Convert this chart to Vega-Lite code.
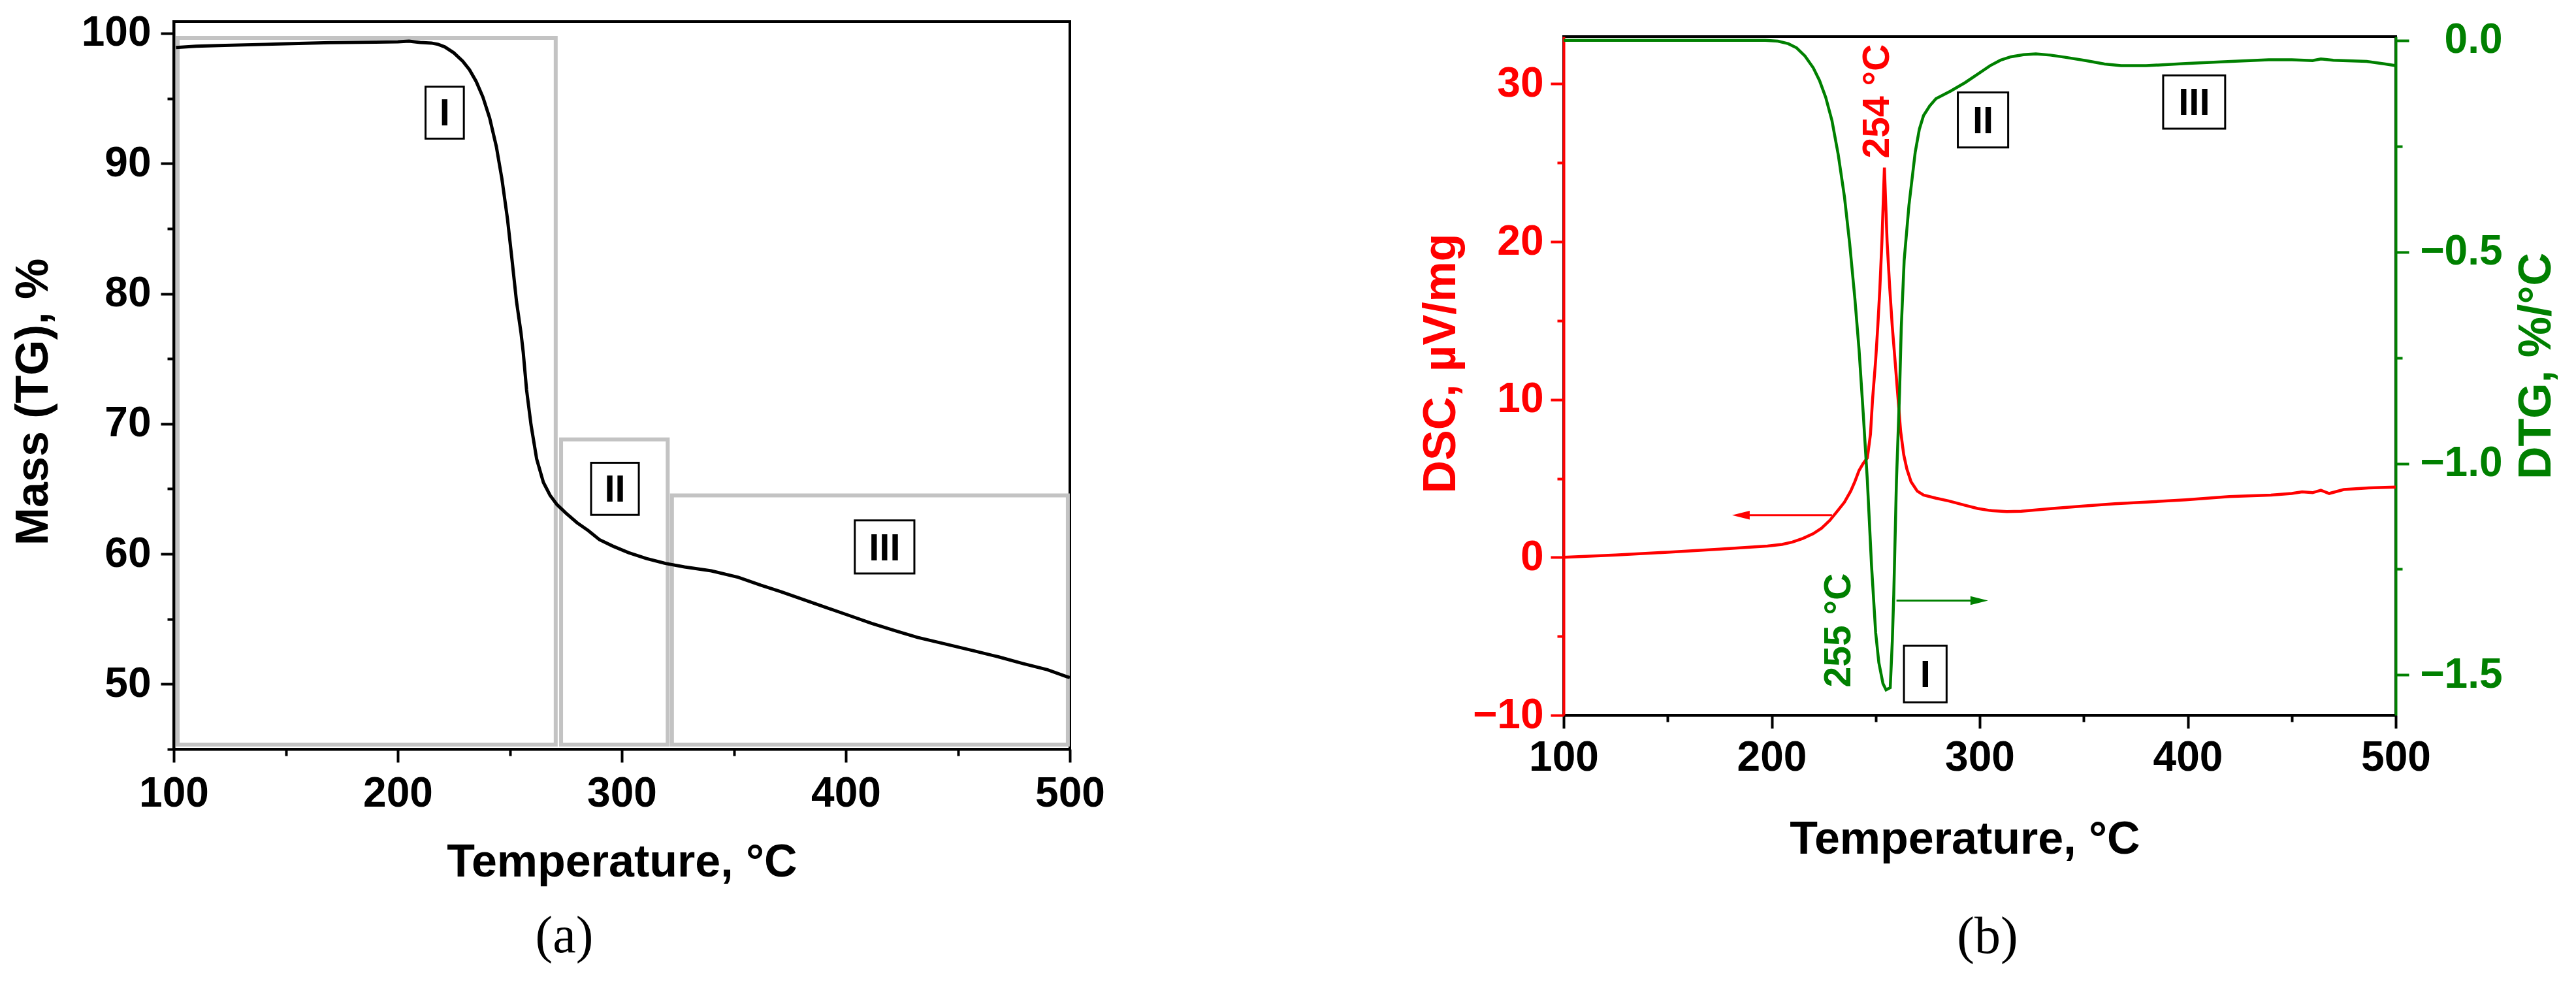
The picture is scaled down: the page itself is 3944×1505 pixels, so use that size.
{
  "$schema": "https://vega.github.io/schema/vega-lite/v6.json",
  "background": "white",
  "padding": {"left": 14, "top": 16, "right": 0, "bottom": 0},
  "config": {
    "view": {"stroke": "black", "strokeWidth": 4},
    "font": "Liberation Sans",
    "axis": {
      "labelFont": "Liberation Sans", "labelFontWeight": "bold", "labelFontSize": 64,
      "titleFont": "Liberation Sans", "titleFontWeight": "bold", "titleFontSize": 70,
      "grid": false, "domainWidth": 4, "tickWidth": 4,
      "domainColor": "black", "tickColor": "black", "labelColor": "black", "titleColor": "black"
    },
    "title": {"font": "Liberation Serif", "fontSize": 80, "fontWeight": "normal", "color": "black"}
  },
  "datasets": {
    "tg": [
      {"t":101,"m":98.9},{"t":110,"m":99.0},{"t":120,"m":99.05},{"t":141,"m":99.15},{"t":150,"m":99.2},{"t":170,"m":99.28},{"t":190,"m":99.32},{"t":200,"m":99.35},{"t":205,"m":99.4},{"t":210,"m":99.3},{"t":215,"m":99.25},{"t":218,"m":99.15},{"t":221,"m":98.95},{"t":225,"m":98.5},{"t":229,"m":97.85},{"t":232,"m":97.2},{"t":235,"m":96.3},{"t":238,"m":95.1},{"t":241,"m":93.5},{"t":244,"m":91.3},{"t":246.5,"m":88.8},{"t":249,"m":85.7},{"t":251,"m":82.6},{"t":253,"m":79.4},{"t":255,"m":77.0},{"t":256,"m":75.5},{"t":257.5,"m":72.6},{"t":259.5,"m":69.9},{"t":262,"m":67.3},{"t":265,"m":65.5},{"t":268,"m":64.5},{"t":271,"m":63.8},{"t":275,"m":63.15},{"t":280,"m":62.4},{"t":285,"m":61.8},{"t":290,"m":61.1},{"t":296,"m":60.6},{"t":303,"m":60.1},{"t":311,"m":59.65},{"t":319.5,"m":59.27},{"t":328,"m":59.0},{"t":340,"m":58.7},{"t":352,"m":58.2},{"t":362,"m":57.6},{"t":371,"m":57.1},{"t":381,"m":56.5},{"t":391,"m":55.9},{"t":401,"m":55.3},{"t":411.5,"m":54.67},{"t":422,"m":54.1},{"t":432,"m":53.59},{"t":444,"m":53.1},{"t":456.5,"m":52.58},{"t":468,"m":52.1},{"t":479,"m":51.58},{"t":490,"m":51.1},{"t":498.5,"m":50.58},{"t":500,"m":50.5}
    ],
    "dsc": [
      {"t":100,"v":0.0},{"t":125,"v":0.15},{"t":150,"v":0.33},{"t":175,"v":0.52},{"t":198,"v":0.72},{"t":205,"v":0.82},{"t":210,"v":0.97},{"t":215,"v":1.2},{"t":220,"v":1.5},{"t":224,"v":1.85},{"t":228,"v":2.35},{"t":232,"v":3.0},{"t":235,"v":3.5},{"t":238,"v":4.2},{"t":240,"v":4.8},{"t":242,"v":5.5},{"t":244,"v":5.95},{"t":246,"v":6.3},{"t":247.5,"v":7.8},{"t":248.5,"v":10.0},{"t":250,"v":12.5},{"t":251,"v":14.6},{"t":252,"v":17},{"t":253,"v":20},{"t":254.2,"v":24.7},{"t":255.5,"v":20},{"t":256.8,"v":17},{"t":258,"v":14.6},{"t":259.3,"v":12.5},{"t":260.5,"v":10.5},{"t":262,"v":8.0},{"t":263.5,"v":6.5},{"t":265,"v":5.6},{"t":267,"v":4.8},{"t":270,"v":4.2},{"t":273,"v":3.95},{"t":279,"v":3.75},{"t":285,"v":3.58},{"t":293,"v":3.3},{"t":299,"v":3.1},{"t":305,"v":2.97},{"t":313,"v":2.9},{"t":320,"v":2.92},{"t":335,"v":3.1},{"t":350,"v":3.25},{"t":365,"v":3.4},{"t":380,"v":3.5},{"t":399,"v":3.65},{"t":420,"v":3.85},{"t":440,"v":3.95},{"t":450,"v":4.05},{"t":455,"v":4.15},{"t":460,"v":4.1},{"t":464,"v":4.25},{"t":468,"v":4.05},{"t":475,"v":4.3},{"t":487,"v":4.4},{"t":500,"v":4.45}
    ],
    "dtg": [
      {"t":100,"v":0.0},{"t":150,"v":0.0},{"t":197,"v":0.0},{"t":203,"v":-0.002},{"t":208,"v":-0.008},{"t":212,"v":-0.018},{"t":216,"v":-0.037},{"t":220,"v":-0.065},{"t":223,"v":-0.095},{"t":226,"v":-0.135},{"t":229,"v":-0.19},{"t":232,"v":-0.27},{"t":235,"v":-0.37},{"t":237.5,"v":-0.48},{"t":240,"v":-0.61},{"t":242,"v":-0.73},{"t":244,"v":-0.88},{"t":246,"v":-1.04},{"t":248,"v":-1.24},{"t":250,"v":-1.4},{"t":251.5,"v":-1.47},{"t":253.5,"v":-1.52},{"t":255,"v":-1.535},{"t":257,"v":-1.53},{"t":258,"v":-1.42},{"t":258.7,"v":-1.31},{"t":260,"v":-1.04},{"t":261.5,"v":-0.83},{"t":262.3,"v":-0.68},{"t":263.7,"v":-0.52},{"t":266,"v":-0.39},{"t":269,"v":-0.265},{"t":271,"v":-0.21},{"t":273,"v":-0.178},{"t":276,"v":-0.155},{"t":279,"v":-0.138},{"t":286,"v":-0.12},{"t":293,"v":-0.1},{"t":299,"v":-0.08},{"t":305,"v":-0.06},{"t":310,"v":-0.047},{"t":315,"v":-0.039},{"t":321,"v":-0.034},{"t":327,"v":-0.032},{"t":334,"v":-0.035},{"t":341,"v":-0.04},{"t":351,"v":-0.048},{"t":360,"v":-0.056},{"t":368,"v":-0.06},{"t":380,"v":-0.06},{"t":399,"v":-0.055},{"t":421,"v":-0.05},{"t":439,"v":-0.046},{"t":450,"v":-0.046},{"t":460,"v":-0.048},{"t":464,"v":-0.044},{"t":470,"v":-0.047},{"t":486,"v":-0.05},{"t":495,"v":-0.056},{"t":500,"v":-0.06}
    ],
    "regA": [
      {"x1":101.75,"x2":270.5,"y1":45.35,"y2":99.65},
      {"x1":272.9,"x2":320.5,"y1":45.35,"y2":68.8},
      {"x1":322.4,"x2":499.1,"y1":45.35,"y2":64.5}
    ],
    "labA": [
      {"x1":212.4,"x2":229.5,"y1":91.9,"y2":95.9,"cx":220.95,"cy":93.9,"lab":"I"},
      {"x1":286.3,"x2":307.6,"y1":63.0,"y2":67.0,"cx":296.95,"cy":65.0,"lab":"II"},
      {"x1":404.0,"x2":430.6,"y1":58.5,"y2":62.57,"cx":417.3,"cy":60.53,"lab":"III"}
    ],
    "labB": [
      {"x1":263.6,"x2":284.1,"y1":-9.18,"y2":-5.59,"cx":273.85,"cy":-7.38,"lab":"I"},
      {"x1":289.5,"x2":313.7,"y1":25.97,"y2":29.46,"cx":301.6,"cy":27.7,"lab":"II"},
      {"x1":388.2,"x2":418.0,"y1":27.16,"y2":30.54,"cx":403.1,"cy":28.85,"lab":"III"}
    ],
    "blank": [{"s": ""}]
  },
  "spacing": 475,
  "hconcat": [
    {
      "width": 1372,
      "height": 1114,
      "title": {"text": "(a)", "orient": "bottom", "anchor": "middle", "dx": -88, "offset": 40},
      "layer": [
        {
          "data": {"name": "regA"},
          "mark": {"type": "rect", "fillOpacity": 0, "stroke": "#c3c3c3", "strokeWidth": 6},
          "encoding": {
            "x": {"field": "x1", "type": "quantitative", "scale": {"domain": [100, 500], "nice": false, "zero": false},
              "axis": {"values": [100,150,200,250,300,350,400,450,500], "labelExpr": "datum.value % 100 === 0 ? datum.label : ''",
                "tickSize": {"condition": {"test": "datum.value % 100 === 0", "value": 20}, "value": 10},
                "labelPadding": 16, "labelFlush": false, "format": "d", "title": "Temperature, °C", "titlePadding": 39}},
            "x2": {"field": "x2"},
            "y": {"field": "y1", "type": "quantitative", "scale": {"domain": [45, 100.9], "nice": false, "zero": false},
              "axis": {"values": [45,50,55,60,65,70,75,80,85,90,95,100], "labelExpr": "datum.value % 10 === 0 ? datum.label : ''",
                "tickSize": {"condition": {"test": "datum.value % 10 === 0", "value": 20}, "value": 10},
                "labelPadding": 15, "format": "d", "title": "Mass (TG), %", "titlePadding": 37, "titleY": 582}},
            "y2": {"field": "y2"}
          }
        },
        {
          "data": {"name": "tg"},
          "mark": {"type": "line", "color": "black", "strokeWidth": 5},
          "encoding": {
            "x": {"field": "t", "type": "quantitative", "scale": {"domain": [100, 500], "nice": false, "zero": false}},
            "y": {"field": "m", "type": "quantitative", "scale": {"domain": [45, 100.9], "nice": false, "zero": false}}
          }
        },
        {
          "data": {"name": "labA"},
          "mark": {"type": "rect", "fill": "white", "stroke": "black", "strokeWidth": 3},
          "encoding": {
            "x": {"field": "x1", "type": "quantitative", "scale": {"domain": [100, 500], "nice": false, "zero": false}},
            "x2": {"field": "x2"},
            "y": {"field": "y1", "type": "quantitative", "scale": {"domain": [45, 100.9], "nice": false, "zero": false}},
            "y2": {"field": "y2"}
          }
        },
        {
          "data": {"name": "labA"},
          "mark": {"type": "text", "font": "Liberation Sans", "fontWeight": "bold", "fontSize": 58, "color": "black", "dy": 3},
          "encoding": {
            "x": {"field": "cx", "type": "quantitative", "scale": {"domain": [100, 500], "nice": false, "zero": false}},
            "y": {"field": "cy", "type": "quantitative", "scale": {"domain": [45, 100.9], "nice": false, "zero": false}},
            "text": {"field": "lab"}
          }
        }
      ]
    },
    {
      "spacing": -12,
      "vconcat": [
        {
          "width": 1274,
          "height": 1,
          "view": {"stroke": null},
          "data": {"name": "blank"},
          "mark": {"type": "text"},
          "encoding": {"text": {"field": "s"}}
        },
        {
          "width": 1274,
          "height": 1039,
          "title": {"text": "(b)", "orient": "bottom", "anchor": "middle", "dx": 12, "offset": 76},
          "resolve": {"scale": {"y": "independent"}},
          "layer": [
            {
              "layer": [
                {
                  "data": {"name": "dsc"},
                  "mark": {"type": "line", "color": "#ff0000", "strokeWidth": 4.5},
                  "encoding": {
                    "x": {"field": "t", "type": "quantitative", "scale": {"domain": [100, 500], "nice": false, "zero": false},
                      "axis": {"orient": "bottom", "values": [100,150,200,250,300,350,400,450,500], "labelExpr": "datum.value % 100 === 0 ? datum.label : ''",
                        "tickSize": {"condition": {"test": "datum.value % 100 === 0", "value": 20}, "value": 10},
                        "labelPadding": 13, "labelFlush": false, "format": "d", "title": "Temperature, °C", "titlePadding": 59, "titleX": 614}},
                    "y": {"field": "v", "type": "quantitative", "scale": {"domain": [-10, 33], "nice": false, "zero": false},
                      "axis": {"orient": "left", "values": [-10,-5,0,5,10,15,20,25,30], "labelExpr": "datum.value % 10 === 0 ? datum.label : ''",
                        "tickSize": {"condition": {"test": "datum.value % 10 === 0", "value": 20}, "value": 10},
                        "labelPadding": 11, "format": "d", "title": "DSC, µV/mg", "titlePadding": 12, "titleY": 500,
                        "domainColor": "#ff0000", "tickColor": "#ff0000", "labelColor": "#ff0000", "titleColor": "#ff0000"}}
                  }
                },
                {
                  "data": {"values": [{"a": 189, "b": 229, "v": 2.67}]},
                  "mark": {"type": "rule", "color": "#ff0000", "strokeWidth": 3},
                  "encoding": {
                    "x": {"field": "a", "type": "quantitative", "scale": {"domain": [100, 500], "nice": false, "zero": false}},
                    "x2": {"field": "b"},
                    "y": {"field": "v", "type": "quantitative", "scale": {"domain": [-10, 33], "nice": false, "zero": false}}
                  }
                },
                {
                  "data": {"values": [{"a": 185.2, "v": 2.67}]},
                  "mark": {"type": "point", "shape": "M-1,0L1,-0.5L1,0.5Z", "size": 729, "filled": true, "opacity": 1, "color": "#ff0000"},
                  "encoding": {
                    "x": {"field": "a", "type": "quantitative", "scale": {"domain": [100, 500], "nice": false, "zero": false}},
                    "y": {"field": "v", "type": "quantitative", "scale": {"domain": [-10, 33], "nice": false, "zero": false}}
                  }
                },
                {
                  "data": {"values": [{"a": 260, "b": 296, "v": -2.74}]},
                  "mark": {"type": "rule", "color": "#008000", "strokeWidth": 3},
                  "encoding": {
                    "x": {"field": "a", "type": "quantitative", "scale": {"domain": [100, 500], "nice": false, "zero": false}},
                    "x2": {"field": "b"},
                    "y": {"field": "v", "type": "quantitative", "scale": {"domain": [-10, 33], "nice": false, "zero": false}}
                  }
                },
                {
                  "data": {"values": [{"a": 299.8, "v": -2.74}]},
                  "mark": {"type": "point", "shape": "M1,0L-1,-0.5L-1,0.5Z", "size": 729, "filled": true, "opacity": 1, "color": "#008000"},
                  "encoding": {
                    "x": {"field": "a", "type": "quantitative", "scale": {"domain": [100, 500], "nice": false, "zero": false}},
                    "y": {"field": "v", "type": "quantitative", "scale": {"domain": [-10, 33], "nice": false, "zero": false}}
                  }
                },
                {
                  "data": {"values": [{"a": 251, "v": 28.9, "lab": "254 °C"}]},
                  "mark": {"type": "text", "angle": 270, "font": "Liberation Sans", "fontWeight": "bold", "fontSize": 57, "color": "#ff0000"},
                  "encoding": {
                    "x": {"field": "a", "type": "quantitative", "scale": {"domain": [100, 500], "nice": false, "zero": false}},
                    "y": {"field": "v", "type": "quantitative", "scale": {"domain": [-10, 33], "nice": false, "zero": false}},
                    "text": {"field": "lab"}
                  }
                },
                {
                  "data": {"values": [{"a": 232.4, "v": -4.62, "lab": "255 °C"}]},
                  "mark": {"type": "text", "angle": 270, "font": "Liberation Sans", "fontWeight": "bold", "fontSize": 57, "color": "#008000"},
                  "encoding": {
                    "x": {"field": "a", "type": "quantitative", "scale": {"domain": [100, 500], "nice": false, "zero": false}},
                    "y": {"field": "v", "type": "quantitative", "scale": {"domain": [-10, 33], "nice": false, "zero": false}},
                    "text": {"field": "lab"}
                  }
                },
                {
                  "data": {"name": "labB"},
                  "mark": {"type": "rect", "fill": "white", "stroke": "black", "strokeWidth": 3},
                  "encoding": {
                    "x": {"field": "x1", "type": "quantitative", "scale": {"domain": [100, 500], "nice": false, "zero": false}},
                    "x2": {"field": "x2"},
                    "y": {"field": "y1", "type": "quantitative", "scale": {"domain": [-10, 33], "nice": false, "zero": false}},
                    "y2": {"field": "y2"}
                  }
                },
                {
                  "data": {"name": "labB"},
                  "mark": {"type": "text", "font": "Liberation Sans", "fontWeight": "bold", "fontSize": 58, "color": "black", "dy": 3},
                  "encoding": {
                    "x": {"field": "cx", "type": "quantitative", "scale": {"domain": [100, 500], "nice": false, "zero": false}},
                    "y": {"field": "cy", "type": "quantitative", "scale": {"domain": [-10, 33], "nice": false, "zero": false}},
                    "text": {"field": "lab"}
                  }
                }
              ]
            },
            {
              "data": {"name": "dtg"},
              "mark": {"type": "line", "color": "#008000", "strokeWidth": 4.5},
              "encoding": {
                "x": {"field": "t", "type": "quantitative", "scale": {"domain": [100, 500], "nice": false, "zero": false}},
                "y": {"field": "v", "type": "quantitative", "scale": {"domain": [-1.595, 0.0088], "nice": false, "zero": false},
                  "axis": {"orient": "right", "values": [-1.5,-1.25,-1,-0.75,-0.5,-0.25,0], "format": ".1f",
                    "labelExpr": "datum.value % 0.5 === 0 ? datum.label : ''",
                    "tickSize": {"condition": {"test": "datum.value % 0.5 === 0", "value": 20}, "value": 10},
                    "labelAlign": "right", "labelPadding": 143,
                    "title": "DTG, %/°C", "titleAngle": 270, "titleBaseline": "top", "titlePadding": 18, "titleY": 504,
                    "domainColor": "#008000", "tickColor": "#008000", "labelColor": "#008000", "titleColor": "#008000"}}
              }
            }
          ]
        }
      ]
    }
  ]
}
